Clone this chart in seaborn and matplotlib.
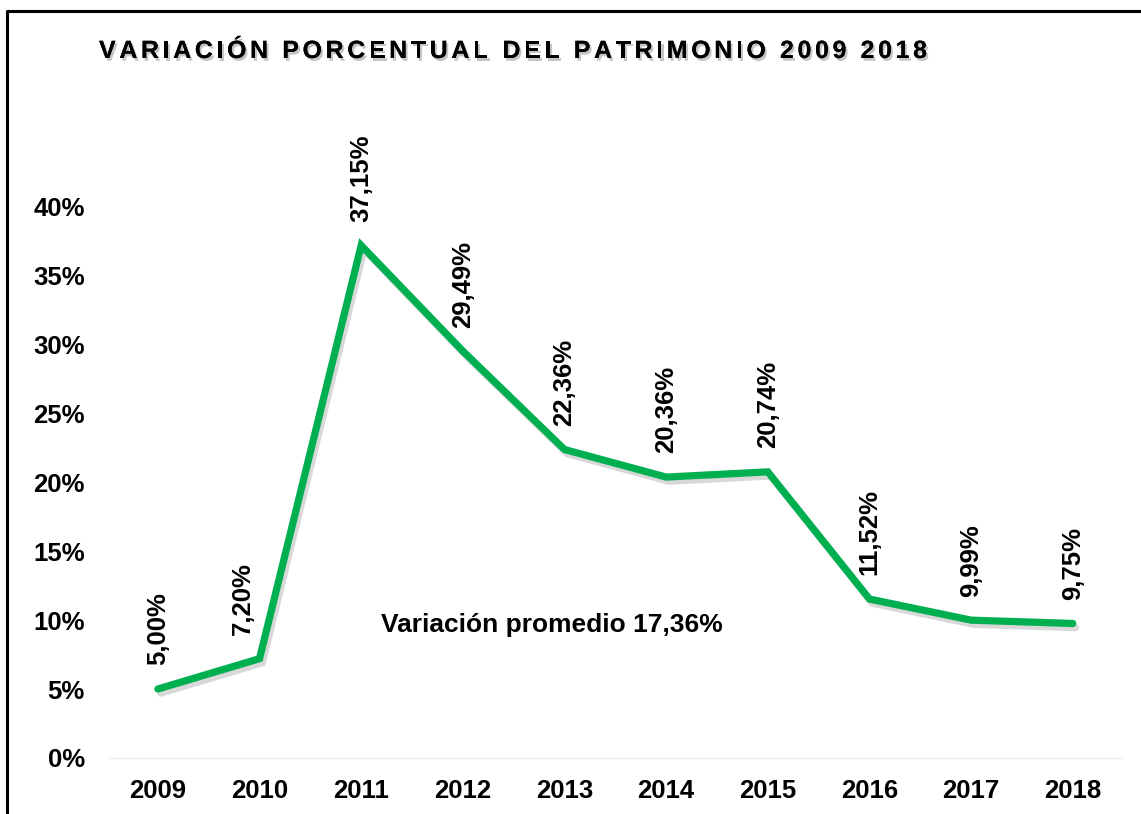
import matplotlib
matplotlib.use("Agg")
import matplotlib.pyplot as plt
import matplotlib.patheffects as pe
from matplotlib.lines import Line2D
from matplotlib.font_manager import findfont, FontProperties
from matplotlib.ft2font import FT2Font
import seaborn as sns
import pandas as pd

# Datos del grafico
anios = [2009, 2010, 2011, 2012, 2013, 2014, 2015, 2016, 2017, 2018]
variacion = [5.00, 7.20, 37.15, 29.49, 22.36, 20.36, 20.74, 11.52, 9.99, 9.75]
yticks = [0, 5, 10, 15, 20, 25, 30, 35, 40]
titulo = "VARIACIÓN PORCENTUAL DEL PATRIMONIO 2009 2018"
promedio = 17.36

sns.set_style("white")
plt.rcParams["font.family"] = ["Liberation Sans", "DejaVu Sans"]
plt.rcParams["font.weight"] = "bold"
plt.rcParams["text.color"] = "black"

df = pd.DataFrame({"Año": anios, "Variación": variacion})

W, H = 1141, 814
fig = plt.figure(figsize=(W / 100, H / 100), dpi=100)
ax = fig.add_axes([0.0938, 0.0688, 0.891, 0.678])

sns.lineplot(data=df, x="Año", y="Variación", ax=ax, color="#00b050",
             linewidth=5.2, solid_capstyle="round", solid_joinstyle="miter",
             path_effects=[pe.SimpleLineShadow(offset=(2, -3), shadow_color="gray", alpha=0.3),
                           pe.Normal()])

ax.set_xlim(anios[0] - 0.5, anios[-1] + 0.5)
ax.set_ylim(0, 40)
ax.set_xticks(anios)
ax.set_xticklabels([str(a) for a in anios], fontsize=18.5, fontweight="bold")
ax.set_yticks(yticks)
ax.set_yticklabels([f"{v}%" for v in yticks], fontsize=18.5, fontweight="bold")
ax.tick_params(axis="y", length=0, pad=16, labelcolor="black")
ax.tick_params(axis="x", length=0, pad=15, labelcolor="black")
ax.set_xlabel("")
ax.set_ylabel("")
for s in ["top", "right", "left"]:
    ax.spines[s].set_visible(False)
ax.spines["bottom"].set_color("#f0f0f0")
ax.spines["bottom"].set_linewidth(1)

# Etiquetas de datos (la de 2010 va corrida a la izquierda, como en Excel)
desplaz = {2010: -12}
for a, v in zip(anios, variacion):
    ax.annotate(f"{v:.2f}%".replace(".", ","), (a, v), xytext=(desplaz.get(a, 0), 17),
                textcoords="offset points", rotation=90, ha="center", va="bottom",
                fontsize=18.5, fontweight="bold", color="black", annotation_clip=False)

ax.text(2012.88, 9.64, f"Variación promedio {promedio:.2f}%".replace(".", ","),
        ha="center", va="center", fontsize=19, fontweight="bold", color="black")

# Titulo con espaciado entre letras, letra por letra
tam_titulo = 18
espacio = 3.6  # px entre letras
fp = FontProperties(family="Liberation Sans", weight="bold", size=tam_titulo)
ft = FT2Font(findfont(fp))
ft.set_size(tam_titulo, 100)
x = 99.0
sombra = [pe.withSimplePatchShadow(offset=(1.5, -2), shadow_rgbFace="gray", alpha=0.45), pe.Normal()]
for ch in titulo:
    if ch != " ":
        fig.text(x / W, 1 - 58 / H, ch, ha="left", va="baseline", fontproperties=fp,
                 color="black", path_effects=sombra)
    x += ft.load_char(ord(ch)).linearHoriAdvance / 65536 + espacio

# Borde
fig.add_artist(Line2D([7 / W, 7 / W, 1.0], [0.0, 1 - 11 / H, 1 - 11 / H],
                      transform=fig.transFigure, color="black", linewidth=2.2))

fig.savefig("out.png", dpi=100)
